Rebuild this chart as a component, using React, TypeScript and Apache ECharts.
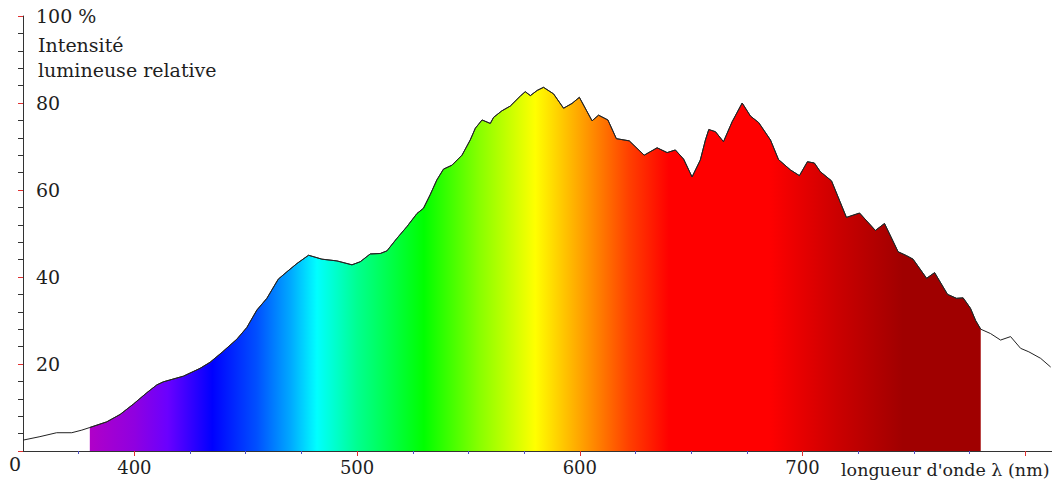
import React, { useEffect, useRef } from "react";
import * as echarts from "echarts";

// Wavelength (nm) and relative luminous intensity (%)
const wavelengths = [
  350, 357.6, 365.1, 371.9, 376.4, 380, 387.6, 393.6, 399.6, 405.6, 410.1, 413.0,
  422.0, 429.5, 434.0, 439.4, 446.0, 450.5, 455.0, 459.5, 464.6, 468.5, 473.0,
  478.2, 484.2, 490.9, 497.7, 501.4, 505.9, 510.4, 513.4, 517.9, 522.4, 526.9,
  529.8, 532.8, 535.8, 538.8, 542.6, 547.1, 550.8, 553.1, 556.1, 559.8, 561.3,
  565.0, 568.8, 573.3, 575.5, 577.8, 580.9, 583.7, 588.2, 592.7, 596.5, 599.8,
  605.5, 608.4, 612.6, 616.4, 622.2, 628.9, 634.7, 639.2, 642.9, 646.6, 650.4,
  654.1, 656.4, 657.9, 660.9, 664.5, 668.4, 672.9, 676.6, 680.3, 685.6, 689.2,
  694.6, 698.6, 702.2, 705.3, 708.0, 713.0, 719.7, 725.6, 732.7, 736.8, 742.9,
  746.7, 749.6, 755.7, 759.3, 765.1, 769.1, 772.1, 775.4, 777.7, 780, 784.4,
  788.9, 793.4, 797.9, 801.6, 806.9, 811.4,
];
const intensities = [
  2.5, 3.3, 4.2, 4.2, 4.8, 5.4, 6.7, 8.4, 10.8, 13.4, 15.2, 15.9,
  17.2, 19.0, 20.4, 22.7, 25.7, 28.4, 32.4, 35.1, 39.5, 41.2, 43.1,
  45.0, 44.1, 43.7, 42.8, 43.5, 45.3, 45.4, 46.0, 48.9, 51.6, 54.6,
  55.8, 58.9, 62.3, 64.8, 65.7, 68.0, 71.5, 74.2, 76.1, 75.3, 76.7,
  78.2, 79.3, 81.6, 82.6, 81.7, 82.9, 83.6, 82.1, 78.8, 79.9, 81.3,
  75.9, 77.2, 76.1, 71.8, 71.3, 68.0, 69.7, 68.6, 69.2, 67.1, 63.0,
  66.9, 71.5, 73.9, 73.4, 71.1, 75.7, 80.0, 77.0, 75.5, 71.5, 67.0,
  64.6, 63.3, 66.5, 66.2, 64.2, 62.1, 53.7, 54.7, 50.7, 52.3, 45.8,
  44.9, 44.1, 39.7, 41.0, 36.0, 35.1, 35.2, 32.8, 30.0, 28.0, 27.0,
  25.5, 26.3, 23.6, 22.8, 21.3, 19.3,
];

const spectrumStart = 380;
const spectrumEnd = 780;

const stopWavelengths = [380, 400, 415, 435, 455, 470, 482, 500, 530, 555, 580, 600, 622, 640, 685, 715, 745, 780];
const stopColors = [
  "#b000c8", "#9000e0", "#6a00ff", "#0000ff", "#0050ff", "#00a8ff", "#00ffff",
  "#00ff90", "#00ff00", "#88ff00", "#ffff00", "#ffa500", "#ff4000", "#ff0000",
  "#ff0000", "#cc0000", "#a00000", "#a00000",
];

const xMajorTicks = [400, 500, 600, 700, 800];
const xLabelValues = [400, 500, 600, 700];
const xMinorTicks = [375, 425, 450, 475, 525, 550, 575, 625, 650, 675, 725, 750, 775];

const FONT = "DejaVu Serif";
const TEXT = "#1e1e1e";

export default function App() {
  const ref = useRef<HTMLDivElement>(null);
  useEffect(() => {
    if (!ref.current) return;
    const chart = echarts.init(ref.current, undefined, { renderer: "svg" });
    const full = wavelengths.map((w, i) => [w, intensities[i]]);
    const spectrum = full.filter((p) => p[0] >= spectrumStart && p[0] <= spectrumEnd);
    const gradient = new echarts.graphic.LinearGradient(
      0, 0, 1, 0,
      stopWavelengths.map((w, i) => ({
        offset: (w - spectrumStart) / (spectrumEnd - spectrumStart),
        color: stopColors[i],
      }))
    );
    chart.setOption({
      animation: false,
      grid: { left: 23, right: 0, top: 16, bottom: 37 },
      xAxis: [
        {
          type: "value",
          min: 350,
          max: 812,
          position: "bottom",
          axisLine: { show: true, lineStyle: { color: "#333", width: 1 } },
          axisTick: {
            show: true,
            customValues: xMajorTicks,
            length: 5,
            lineStyle: { color: "#e03030" },
          },
          axisLabel: {
            customValues: xLabelValues,
            fontFamily: FONT,
            fontSize: 18,
            color: TEXT,
            margin: 7,
          },
          splitLine: { show: false },
        },
        {
          type: "value",
          min: 350,
          max: 812,
          position: "bottom",
          axisLine: { show: false },
          axisTick: {
            show: true,
            customValues: xMinorTicks,
            length: 3,
            lineStyle: { color: "#5050c8" },
          },
          axisLabel: { show: false },
          splitLine: { show: false },
        },
      ],
      yAxis: {
        type: "value",
        min: 0,
        max: 100,
        interval: 20,
        axisLine: { show: true, lineStyle: { color: "#333", width: 1 } },
        axisTick: { show: true, length: 5, lineStyle: { color: "#e03030" } },
        minorTick: { show: true, splitNumber: 5, length: 5, lineStyle: { color: "#333" } },
        axisLabel: {
          inside: true,
          margin: 13,
          fontFamily: FONT,
          fontSize: 19,
          color: TEXT,
          formatter: (v: number) => (v === 0 ? "" : v === 100 ? "100 %" : String(v)),
        },
        splitLine: { show: false },
      },
      graphic: [
        { type: "text", left: 9, top: 454, style: { text: "0", font: `19px "${FONT}"`, fill: TEXT } },
        { type: "text", left: 38, top: 35, style: { text: "Intensité", font: `19px "${FONT}"`, fill: TEXT } },
        { type: "text", left: 38, top: 60, style: { text: "lumineuse relative", font: `19px "${FONT}"`, fill: TEXT } },
        { type: "text", left: 841, top: 461, style: { text: "longueur d'onde λ (nm)", font: `17.5px "${FONT}"`, fill: TEXT } },
      ],
      series: [
        {
          type: "line",
          data: spectrum,
          showSymbol: false,
          lineStyle: { color: "#333", width: 1 },
          areaStyle: { color: gradient, opacity: 1 },
          z: 2,
        },
        {
          type: "line",
          data: full,
          showSymbol: false,
          lineStyle: { color: "#222", width: 1 },
          z: 3,
        },
      ],
    });
    return () => chart.dispose();
  }, []);
  return (
    <div
      ref={ref}
      style={{ position: "absolute", left: 0, top: 0, width: 1052, height: 488, background: "#fff" }}
    />
  );
}
